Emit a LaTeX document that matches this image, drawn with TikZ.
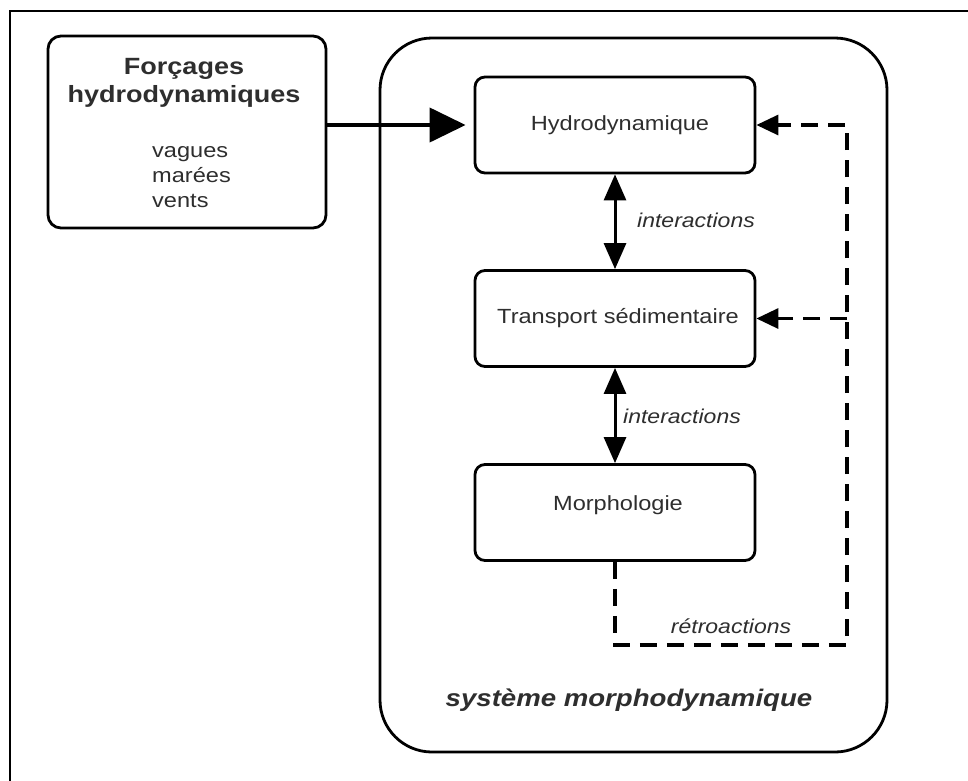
\documentclass[tikz,border=0pt]{standalone}
\usepackage{fontspec}
\setmainfont{Liberation Sans}[FakeStretch=1.15]
\usetikzlibrary{arrows.meta}
\definecolor{txt}{HTML}{2E2E2E}
\tikzset{
  box/.style={draw=black, line width=2.8pt, rounded corners=10pt, minimum width=280pt, minimum height=96pt, inner sep=0pt},
  lbl/.style={text=txt, inner sep=0pt, font=\fontsize{20.5}{25}\selectfont},
  ilbl/.style={text=txt, inner sep=0pt, font=\fontsize{20}{24}\selectfont\itshape},
  dblarrow/.style={line width=3pt, {Triangle[length=26pt,width=22pt]}-{Triangle[length=26pt,width=22pt]}},
  fbline/.style={line width=3.2pt, dash pattern=on 17pt off 10pt},
  fbtip/.style={-{Triangle[length=22pt,width=20pt]}},
}
\begin{document}
\begin{tikzpicture}[x=1pt,y=-1pt]
\useasboundingbox (0,0) rectangle (968,780);
% outer frame
\draw[line width=2.2pt] (980,11) -- (10,11) -- (10,790);
% systeme box
\node[draw, line width=2.8pt, rounded corners=52pt, minimum width=507pt, minimum height=714pt, inner sep=0pt] (sys) at (633.5,395) {};
\node[text=txt, inner sep=0pt, font=\fontsize{24}{28}\selectfont\bfseries\itshape] (syslbl) at (629,700) {système morphodynamique};
% forcages box
\node[box, minimum width=278pt, minimum height=192pt, rounded corners=13pt] (forc) at (187,132) {};
\node[text=txt, inner sep=0pt, align=center, font=\fontsize{23.5}{28}\selectfont\bfseries, anchor=base] (forct) at (184,102) {Forçages\\hydrodynamiques};
\node[lbl, align=left, anchor=base west] (vag) at (152,207) {vagues\\marées\\vents};
% inner boxes
\node[box] (hydro) at (615,125) {};
\node[lbl] (hydrot) at (620,125) {Hydrodynamique};
\node[box] (trans) at (615,318.5) {};
\node[lbl] (transt) at (618,318) {Transport sédimentaire};
\node[box] (morph) at (615,512.5) {};
\node[lbl] (morpht) at (618,505) {Morphologie};
% forcing arrow
\draw[line width=4pt, -{Triangle[length=36pt,width=34pt]}, shorten >=8pt] (forc.east |- hydro.west) -- (hydro.west);
% interactions
\draw[dblarrow] (hydro.south) -- (trans.north);
\node[ilbl, anchor=west] (int1) at (637,220) {interactions};
\draw[dblarrow] (trans.south) -- (morph.north);
\node[ilbl, anchor=west] (int2) at (623,416) {interactions};
% feedback
\coordinate (c1) at (615,645);
\coordinate (c2) at (847,645);
\coordinate (c3) at (847,125);
\coordinate (c4) at (847,318.5);
\draw[fbline, fbtip] (morph.south) -- (c1) -- (c2) -- (c3) -- (hydro.east);
\draw[fbline, fbtip] (c4) -- (trans.east);
\node[ilbl] (retro) at (731,626) {rétroactions};
\end{tikzpicture}
\end{document}
